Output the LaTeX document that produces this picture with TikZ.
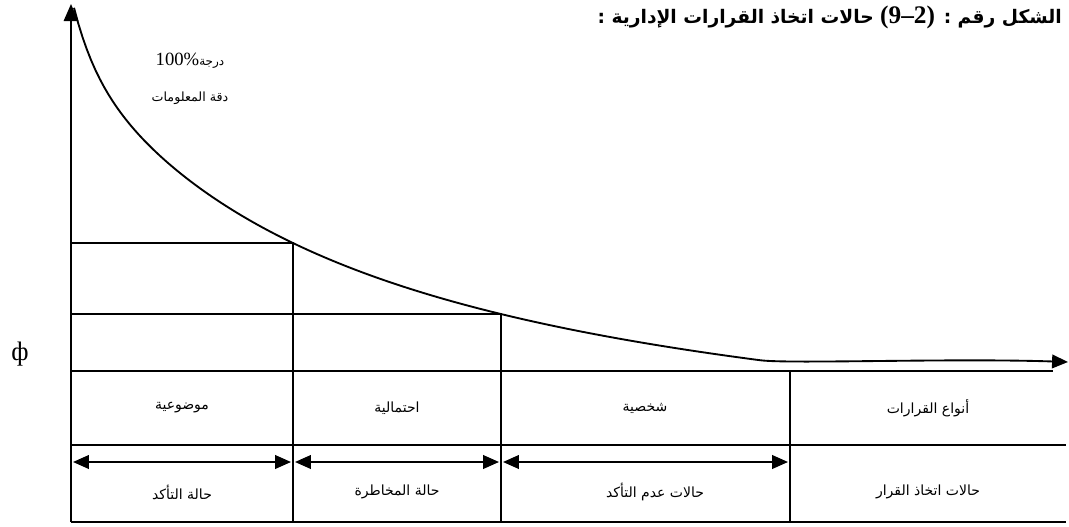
\documentclass[tikz,border=0pt]{standalone}
\usepackage{fontspec}
\setmainfont{Liberation Serif}
\newfontfamily\arabicfont[Script=Arabic]{DejaVu Sans}
\TeXXeTstate=1
\usetikzlibrary{arrows.meta}
\tikzset{
  frame line/.style={line width=1.4pt},
  span arrow/.style={line width=1.4pt,
    {Triangle[length=4.2mm,width=3.6mm]}-{Triangle[length=4.2mm,width=3.6mm]}},
  cell text/.style={font=\arabicfont\fontsize{10.5}{12}\selectfont, inner sep=1pt},
}

\begin{document}
\begin{tikzpicture}[x=0.75pt,y=-0.75pt]
  \useasboundingbox (0,0) rectangle (1069,527);
  % corners of the table
  \coordinate (O) at (71,522);
  \coordinate (ytop) at (71,4);
  \coordinate (k1) at (293,243);
  \coordinate (k2) at (501,314);
  \coordinate (k3) at (790,371);
  \draw[frame line, -{Triangle[length=4.5mm,width=3.8mm]}] (O) -- (ytop);
  % information curve
  \draw[frame line, -{Triangle[length=4.2mm,width=3.6mm]}]
    plot[domain=74:760, samples=160]
      (\x, {365 - (1251.98/((\x+217.5)/100) - 123.3 + 58.9*exp(-(\x-71)/20.8))})
    .. controls (790,364.1) and (950,358) .. (1068,362);
  \draw[frame line] (71,243) -- (k1) -- (293,522);
  \draw[frame line] (71,314) -- (k2) -- (501,522);
  \draw[frame line] (71,371) -- (1053,371);
  \draw[frame line] (k3) -- (790,522);
  \draw[frame line] (71,445) -- (1066,445);
  \draw[frame line] (O) -- (1066,522);
  % spans
  \draw[span arrow] (73,462) -- (291,462);
  \draw[span arrow] (295,462) -- (499,462);
  \draw[span arrow] (503,462) -- (788,462);
  % labels
  \foreach \x/\t [count=\i] in {182/موضوعية, 397/احتمالية, 645/شخصية, 928/أنواع القرارات} {
    \node[cell text] (type\i) at (\x,408) {\beginR\t\endR};
  }
  \foreach \x/\t [count=\i] in {182/حالة التأكد, 397/حالة المخاطرة, 655/حالات عدم التأكد, 928/حالات اتخاذ القرار} {
    \node[cell text] (case\i) at (\x,492) {\beginR\t\endR};
  }
  \node[font=\fontsize{14}{16}\selectfont, inner sep=0pt] (level) at (190,61)
    {100\%{\arabicfont\fontsize{9}{11}\selectfont\beginR درجة\endR}};
  \node[cell text, font=\arabicfont\fontsize{9.5}{11}\selectfont] (accuracy) at (190,98)
    {\beginR دقة المعلومات\endR};
  \node[font=\fontsize{20}{22}\selectfont, inner sep=0pt] (phi) at (20,354) {ф};
  \node[anchor=east, inner sep=0pt, font=\arabicfont\bfseries\fontsize{14}{18}\selectfont] (title) at (1062,17)
    {\beginR الشكل رقم : \beginL{\rmfamily\bfseries\fontsize{19}{20}\selectfont(9–2)}\endL{} حالات اتخاذ القرارات الإدارية :\endR};
\end{tikzpicture}
\end{document}
